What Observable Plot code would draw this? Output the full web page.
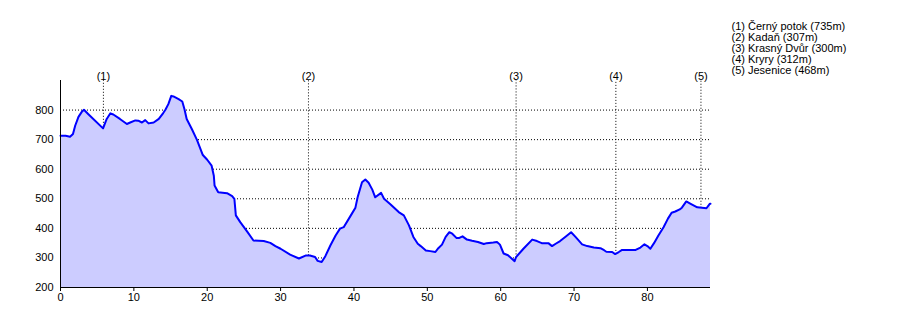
<!DOCTYPE html>
<html>
<head>
<meta charset="utf-8">
<script src="https://cdn.jsdelivr.net/npm/d3@7"></script>
<script src="https://cdn.jsdelivr.net/npm/@observablehq/plot@0.6"></script>
<style>
  body { margin: 0; background: #fff; }
  #chart svg { font-family: "Liberation Sans", Arial, Helvetica, sans-serif; }
</style>
</head>
<body>
<div id="chart"></div>
<script>
const distanceKm = [0,0.7,1.3,1.7,2.0,2.45,2.9,3.2,3.8,5.8,6.3,6.8,7.2,8.1,9.05,9.5,10.2,10.6,11.1,11.55,12.0,12.7,13.4,14.0,14.3,14.7,15.1,15.4,16.1,16.6,16.9,17.2,17.9,18.6,19.4,20.0,20.6,20.9,21.0,21.5,22.7,23.4,23.7,23.9,24.5,25.5,26.3,27.7,28.6,29.3,30.0,31.3,32.5,33.4,34.0,34.7,35.05,35.6,36.1,36.8,37.5,38.1,38.6,39.7,40.2,40.5,41.1,41.55,42.0,42.5,42.9,43.7,44.1,45.0,46.1,46.8,47.5,48.1,48.7,49.1,49.8,50.4,51.1,51.5,52.0,52.5,53.0,53.4,54.0,54.3,54.8,55.4,56.1,56.9,57.7,58.1,59.0,59.5,59.9,60.4,61.0,61.9,62.1,63.1,64.3,64.95,65.6,66.5,67.0,67.5,68.1,68.8,69.6,70.2,71.1,71.8,72.7,73.6,74.1,74.4,75.2,75.6,76.1,76.55,78.4,79.05,79.6,80.0,80.4,80.9,81.5,82.2,82.8,83.3,83.8,84.4,84.7,85.3,85.9,86.8,88.05,88.5,88.6];
const elevationM = [713,713,710,719,747,777,794,801,786,738,770,789,785,770,753,758,765,764,758,766,755,758,770,790,801,820,848,846,837,829,803,770,736,699,648,632,612,578,545,522,519,509,500,444,421,387,359,357,351,340,331,311,298,308,308,303,290,286,306,343,376,399,404,449,470,505,556,565,554,531,505,520,500,481,455,444,410,371,348,340,325,323,320,333,345,371,387,382,367,367,373,362,358,354,347,350,352,354,345,315,309,289,303,331,362,357,350,350,340,348,357,371,387,371,346,340,335,333,326,321,320,313,320,327,327,335,346,340,331,350,376,404,433,453,457,464,470,491,483,471,468,483,483];

const waypointKm = [5.85, 33.8, 62.1, 75.7, 87.3];
const waypointElev = [735, 307, 300, 312, 468];
const waypointName = ["Černý potok", "Kadaň", "Krasný Dvůr", "Kryry", "Jesenice"];

const xTicks = [0, 10, 20, 30, 40, 50, 60, 70, 80];
const yTicks = [200, 300, 400, 500, 600, 700, 800];
const gridValues = [300, 400, 500, 600, 700, 800];

const profile = distanceKm.map((d, i) => ({km: d, elev: elevationM[i]}));
const waypoints = waypointKm.map((d, i) => ({km: d, elev: waypointElev[i], label: `(${i + 1})`, name: waypointName[i]}));
const legendText = waypoints.map(w => `${w.label} ${w.name} (${w.elev}m)`).join("\n");

const chart = Plot.plot({
  width: 900,
  height: 327,
  marginLeft: 60,
  marginRight: 190,
  marginTop: 80,
  marginBottom: 40,
  style: {fontSize: "11px", fontFamily: "'Liberation Sans', Arial, Helvetica, sans-serif", background: "#fff", color: "#000"},
  x: {domain: [0, 88.6], label: null},
  y: {domain: [200, 900], label: null},
  marks: [
    Plot.ruleY(gridValues, {stroke: "#000", strokeWidth: 1, strokeDasharray: "1,2"}),
    Plot.ruleX(waypoints, {x: "km", y1: "elev", y2: 900, insetTop: 3, stroke: "#000", strokeWidth: 1, strokeDasharray: "1,2"}),
    Plot.areaY(profile, {x: "km", y1: 200, y2: "elev", fill: "#ccccff"}),
    Plot.lineY(profile, {x: "km", y: "elev", stroke: "#0000ff", strokeWidth: 2}),
    Plot.ruleY([200], {stroke: "#000"}),
    Plot.ruleX([0], {y1: 200, y2: 900, stroke: "#000"}),
    Plot.axisX({ticks: xTicks, tickSize: 4, tickPadding: 2, fontSize: 11, stroke: "#000", fill: "#000", label: null}),
    Plot.axisY({ticks: yTicks, tickSize: 0, tickPadding: 7, fontSize: 11, fill: "#000", label: null}),
    Plot.text(waypoints, {x: "km", y: 900, text: "label", dy: -4, fontSize: 11, fill: "#000"}),
    Plot.text([legendText], {frameAnchor: "top-right", dx: 21, dy: -58, textAnchor: "start", lineAnchor: "top", lineHeight: 1.0, fontSize: 11, fill: "#000"})
  ]
});
document.getElementById("chart").appendChild(chart);
</script>
</body>
</html>
